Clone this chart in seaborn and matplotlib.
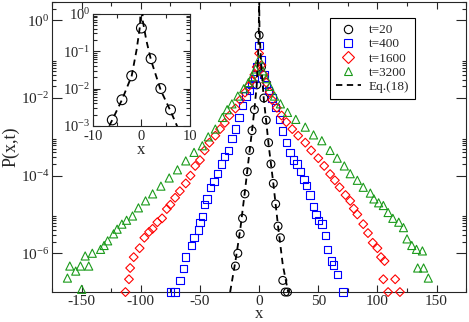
import numpy as np
import pandas as pd
import matplotlib
matplotlib.use('Agg')
import matplotlib.pyplot as plt
import matplotlib.ticker as mticker
from matplotlib.lines import Line2D
import seaborn as sns

# t=20 (circles), values read as log10 P
t20_x = [-20, -18, -16, -14, -12, -10, -8, -6, -4, -2, 0, 2, 4, 6, 8, 10, 12, 14, 16, 18, 20, 22, 24]
t20_logp = [-6.33, -6.0, -5.5, -5.1, -4.47, -3.9, -3.35, -2.84, -2.3, -1.66, -0.38, -1.2, -2.0,
            -2.57, -3.15, -3.7, -4.2, -4.73, -5.3, -5.6, -6.7, -7.0, -7.0]

# t=400 (squares)
t400_x = [-75, -71, -67, -64, -62, -57, -55, -51, -50, -48, -46, -44, -41, -38, -35, -32, -29, -26,
          -23, -20, -17, -14, -11, -8, -6, -4, -2, 0, 2, 4, 6, 8, 11, 14, 17, 20, 23, 26, 29, 32,
          35, 38, 40, 43, 46, 48, 50, 53, 56, 58, 61, 63, 66, 71]
t400_logp = [-7.0, -7.0, -6.7, -6.4, -6.1, -5.8, -5.6, -5.4, -5.2, -5.05, -4.75, -4.6, -4.3, -4.15,
             -3.95, -3.7, -3.5, -3.35, -3.05, -2.8, -2.5, -2.2, -1.95, -1.8, -1.65, -1.5, -1.2,
             -0.65, -1.0, -1.4, -1.65, -1.8, -2.0, -2.25, -2.55, -2.85, -3.15, -3.4, -3.6, -3.7,
             -3.9, -4.1, -4.25, -4.5, -4.8, -5.0, -5.15, -5.25, -5.55, -5.9, -6.2, -6.3, -6.55, -7.0]

# t=1600 (diamonds)
t1600_x = [-113, -110, -109, -106, -101, -97, -93, -90, -86, -82, -78, -75, -71, -67, -62, -58,
           -54, -50, -46, -42, -37, -33, -29, -25, -20, -16, -12, -9, -6, -4, -2, 0, 2, 4, 6, 9,
           11, 15, 19, 23, 28, 33, 39, 44, 50, 55, 60, 64, 68, 73, 77, 80, 83, 88, 92, 96, 100,
           103, 106, 105, 115, 109, 119]
t1600_logp = [-7.0, -6.67, -6.38, -6.1, -5.87, -5.6, -5.45, -5.37, -5.2, -5.1, -4.86, -4.75, -4.57,
              -4.4, -4.2, -4.0, -3.75, -3.6, -3.35, -3.15, -2.97, -2.8, -2.64, -2.45, -2.27, -2.05,
              -1.86, -1.7, -1.55, -1.4, -1.2, -0.85, -1.15, -1.4, -1.6, -1.85, -2.05, -2.25, -2.45,
              -2.62, -2.8, -2.97, -3.15, -3.35, -3.55, -3.75, -3.96, -4.12, -4.3, -4.5, -4.65,
              -4.85, -5.0, -5.25, -5.48, -5.73, -5.87, -6.1, -6.2, -6.67, -6.67, -7.0, -7.0]

# t=3200 (triangles)
t3200_x = [-162, -160, -155, -151, -150, -147, -144, -141, -134, -131, -128, -123, -120, -116,
           -112, -107, -102, -96, -90, -83, -76, -69, -62, -55, -48, -43, -37, -31, -27, -23, -18,
           -13, -9, -6, -3, 0, 3, 6, 9, 13, 18, 24, 31, 39, 46, 53, 60, 66, 72, 77, 83, 88, 94, 97,
           101, 105, 109, 113, 118, 122, 125, 129, 133, 138, 134, 139, 143]
t3200_logp = [-6.64, -6.33, -6.46, -6.33, -6.93, -6.07, -6.33, -6.0, -5.9, -5.8, -5.68, -5.5,
              -5.38, -5.25, -5.15, -5.04, -4.83, -4.65, -4.47, -4.27, -4.06, -3.85, -3.62, -3.4,
              -3.23, -3.0, -2.8, -2.5, -2.3, -2.15, -1.95, -1.76, -1.6, -1.45, -1.25, -1.0, -1.3,
              -1.5, -1.7, -1.95, -2.15, -2.37, -2.55, -2.75, -2.95, -3.1, -3.35, -3.55, -3.75,
              -3.95, -4.12, -4.3, -4.45, -4.6, -4.7, -4.77, -4.95, -5.1, -5.2, -5.34, -5.63, -5.8,
              -5.9, -5.94, -6.38, -6.38, -6.64]

# Eq.(18) dashed curve
eq_x = [-24.5, -20, -16, -12, -8, -6, -4, -2, -1, -0.3, 0, 0.3, 1, 2, 4, 6, 8, 12, 16, 20, 24.5]
eq_logp = [-7.0, -6.2, -5.4, -4.4, -3.35, -2.84, -2.3, -1.66, -0.97, -0.34, 0.7, -0.2, -0.7,
           -1.25, -2.05, -2.6, -3.2, -4.2, -5.3, -6.3, -7.0]

series = [
    ('t=20', t20_x, t20_logp, 'black', 'o', 32),
    ('t=400', t400_x, t400_logp, '#0000ff', 's', 28),
    ('t=1600', t1600_x, t1600_logp, '#ff0000', 'D', 20),
    ('t=3200', t3200_x, t3200_logp, '#1a9a1a', '^', 34),
]

sns.set_style('ticks')
plt.rcParams['font.family'] = ['Liberation Serif', 'DejaVu Serif']
plt.rcParams['mathtext.fontset'] = 'stix'
plt.rcParams['xtick.direction'] = 'in'
plt.rcParams['ytick.direction'] = 'in'
plt.rcParams['axes.unicode_minus'] = False

fig = plt.figure(figsize=(4.69, 3.22), dpi=100)
ax = fig.add_axes([0.111, 0.093, 0.883, 0.901])

eq_df = pd.DataFrame({'x': eq_x, 'p': 10.0 ** np.array(eq_logp)})

for label, xs, lp, col, mk, sz in series:
    df = pd.DataFrame({'x': xs, 'p': 10.0 ** np.array(lp)})
    sns.scatterplot(data=df, x='x', y='p', ax=ax, marker=mk, s=sz, color=col,
                    facecolor='none', edgecolor=col, linewidth=0.8, clip_on=False, zorder=3)

sns.lineplot(data=eq_df, x='x', y='p', ax=ax, color='black', lw=1.3,
             linestyle=(0, (3.5, 2.5)), zorder=4)

ax.set_yscale('log')
ax.set_xlim(-175, 175)
ax.set_ylim(1e-7, 3)
ax.xaxis.set_major_locator(mticker.MultipleLocator(50))
ax.xaxis.set_minor_locator(mticker.MultipleLocator(25))
ax.yaxis.set_major_locator(mticker.LogLocator(base=100, numticks=10))
ax.yaxis.set_minor_locator(mticker.LogLocator(base=100, subs=np.arange(2, 10), numticks=10))
ax.yaxis.set_minor_formatter(mticker.NullFormatter())
ax.tick_params(which='both', top=True, right=True, labelsize=11, width=0.8, pad=2)
ax.tick_params(which='major', length=5)
ax.tick_params(which='minor', length=3)
ax.tick_params(axis='y', which='major', length=7)
for s in ax.spines.values():
    s.set_linewidth(0.8)
ax.set_xlabel('x', fontsize=12, labelpad=-1)
ax.set_ylabel('P(x,t)', fontsize=13, labelpad=1)

handles = [Line2D([], [], ls='none', marker=mk, mfc='none', mec=col, ms=6, mew=0.8)
           for _, _, _, col, mk, _ in series]
handles.append(Line2D([], [], color='black', lw=1.3, ls=(0, (3.5, 2.5))))
labels = [s[0] for s in series] + ['Eq.(18)']
leg = ax.legend(handles, labels, loc='upper right', bbox_to_anchor=(0.885, 0.944),
                bbox_transform=fig.transFigure, fontsize=9.5, frameon=True, fancybox=False,
                edgecolor='black', framealpha=1, handlelength=1.9, handletextpad=0.6,
                labelspacing=0.15, borderpad=0.45, borderaxespad=0)
leg.get_frame().set_linewidth(0.8)

# inset
axin = fig.add_axes([0.198, 0.609, 0.207, 0.348])
t20_df = pd.DataFrame({'x': t20_x, 'p': 10.0 ** np.array(t20_logp)})
sns.scatterplot(data=t20_df, x='x', y='p', ax=axin, marker='o', s=50, color='black',
                facecolor='none', edgecolor='black', linewidth=0.8, zorder=3)
sns.lineplot(data=eq_df, x='x', y='p', ax=axin, color='black', lw=1.3,
             linestyle=(0, (3.5, 2.5)), zorder=4)
axin.set_yscale('log')
axin.set_xlim(-10, 10)
axin.set_ylim(1e-3, 1)
axin.xaxis.set_major_locator(mticker.MultipleLocator(10))
axin.xaxis.set_minor_locator(mticker.MultipleLocator(5))
axin.yaxis.set_major_locator(mticker.LogLocator(base=10, numticks=10))
axin.yaxis.set_minor_locator(mticker.LogLocator(base=10, subs=np.arange(2, 10), numticks=10))
axin.yaxis.set_minor_formatter(mticker.NullFormatter())
axin.tick_params(which='both', top=True, right=True, labelsize=10.5, width=0.8, pad=2)
axin.tick_params(axis='x', which='major', pad=3)
axin.tick_params(which='major', length=5)
axin.tick_params(which='minor', length=3)
for s in axin.spines.values():
    s.set_linewidth(0.8)
axin.set_xlabel('x', fontsize=12, labelpad=-1)
axin.set_ylabel('')

fig.savefig('out.png', dpi=100)
